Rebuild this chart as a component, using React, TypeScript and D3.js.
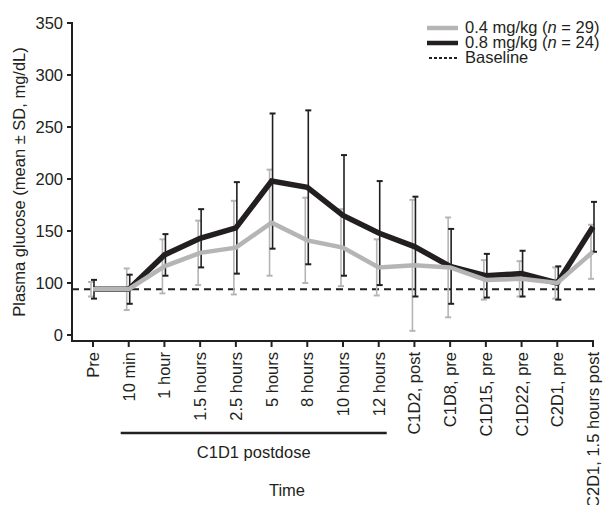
import React from 'react';
import * as d3 from 'd3';

// ==== data

const timepoints = [
    'Pre', '10 min', '1 hour', '1.5 hours', '2.5 hours', '5 hours', '8 hours', '10 hours', '12 hours',
    'C1D2, post', 'C1D8, pre', 'C1D15, pre', 'C1D22, pre', 'C2D1, pre', 'C2D1, 1.5 hours post'
];

const meanLow = [94, 94, 116, 129, 134, 158, 141, 134, 115, 117, 115, 103, 104, 100, 130];
const sdLow = [7, 20, 26, 31, 45, 51, 41, 37, 27, 63, 48, 19, 17, 15, 26];

const meanHigh = [94, 94, 127, 143, 153, 198, 192, 165, 148, 135, 116, 107, 109, 100, 154];
const sdHigh = [9, 14, 20, 28, 44, 65, 74, 58, 50, 48, 36, 21, 22, 16, 24];

const baselineValue = 94;

// axis is broken: the bottom tick shows 0 but sits where 50 would be
const yTickValues = [50, 100, 150, 200, 250, 300, 350];
const yTickLabels = ['0', '100', '150', '200', '250', '300', '350'];

const postdoseFrom = '10 min';
const postdoseTo = '12 hours';

// ====

const FONT = '"Liberation Sans", Arial, Helvetica, sans-serif';
const FS = 16.5;
const GRAY = '#b5b5b5';
const BLACK = '#231f20';

const App = () => {
    const x = d3.scalePoint<string>().domain(timepoints).range([93, 593]);
    const y = d3.scaleLinear().domain([50, 350]).range([335, 23]);

    const axisY = 341;
    const axisX = 72;

    const line = d3.line<number>()
        .x((d, i) => x(timepoints[i]) as number)
        .y((d) => y(d));

    const series = [
        { mean: meanLow, sd: sdLow, color: GRAY, shift: -2 },
        { mean: meanHigh, sd: sdHigh, color: BLACK, shift: 1 }
    ];

    const errorBars = (s) => s.mean.map((m, i) => {
        const cx = (x(timepoints[i]) as number) + s.shift;
        const top = y(m + s.sd[i]);
        const bot = y(m - s.sd[i]);
        return (
            <g key={i} stroke={s.color} strokeWidth={1.6}>
                <line x1={cx} x2={cx} y1={top} y2={bot} />
                <line x1={cx - 3} x2={cx + 3} y1={top} y2={top} strokeWidth={2} />
                <line x1={cx - 3} x2={cx + 3} y1={bot} y2={bot} strokeWidth={2} />
            </g>
        );
    });

    return (
        <svg width={603} height={505} style={{ position: 'absolute', left: 0, top: 0 }} fontFamily={FONT}>
            {/* y axis */}
            <line x1={axisX} x2={axisX} y1={y(350) - 1} y2={axisY + 1} stroke={BLACK} strokeWidth={2} />
            {yTickValues.map((v, i) => (
                <g key={v}>
                    <line x1={axisX - 5} x2={axisX} y1={y(v)} y2={y(v)} stroke={BLACK} strokeWidth={2} />
                    <text x={axisX - 9} y={y(v)} dy="0.36em" textAnchor="end" fontSize={FS} fill={BLACK}>
                        {yTickLabels[i]}
                    </text>
                </g>
            ))}
            <text transform={`translate(19,182) rotate(-90)`} textAnchor="middle" dy="0.35em" fontSize={FS} fill={BLACK}>
                Plasma glucose (mean ± SD, mg/dL)
            </text>

            {/* x axis */}
            <line x1={axisX - 1} x2={(x(timepoints[timepoints.length - 1]) as number) + 1} y1={axisY} y2={axisY} stroke={BLACK} strokeWidth={2} />
            {timepoints.map((t) => (
                <g key={t}>
                    <line x1={x(t)} x2={x(t)} y1={axisY} y2={axisY + 6} stroke={BLACK} strokeWidth={2} />
                    <text transform={`translate(${x(t)},352) rotate(-90)`} textAnchor="end" dy="0.36em" fontSize={FS} fill={BLACK}>
                        {t}
                    </text>
                </g>
            ))}

            {/* postdose bracket */}
            <line x1={(x(postdoseFrom) as number) - 8} x2={(x(postdoseTo) as number) + 8} y1={433} y2={433} stroke={BLACK} strokeWidth={2.5} />
            <text x={((x(postdoseFrom) as number) + (x(postdoseTo) as number)) / 2} y={458} textAnchor="middle" fontSize={FS} fill={BLACK}>
                C1D1 postdose
            </text>
            <text x={287} y={496} textAnchor="middle" fontSize={FS} fill={BLACK}>Time</text>

            {/* baseline */}
            <line x1={axisX} x2={597} y1={y(baselineValue)} y2={y(baselineValue)} stroke={BLACK} strokeWidth={2} strokeDasharray="7,5" />

            {/* error bars */}
            {series.map((s, k) => <g key={k}>{errorBars(s)}</g>)}

            {/* mean lines */}
            <path d={line(meanHigh) as string} fill="none" stroke={BLACK} strokeWidth={5.5} strokeLinejoin="miter" />
            <path d={line(meanLow) as string} fill="none" stroke={GRAY} strokeWidth={4.5} strokeLinejoin="miter" />

            {/* legend */}
            <g fontSize={FS} fill={BLACK}>
                <line x1={427} x2={458} y1={28} y2={28} stroke={GRAY} strokeWidth={4.5} />
                <text x={465} y={33}>0.4 mg/kg  (<tspan fontStyle="italic">n</tspan> = 29)</text>
                <line x1={427} x2={458} y1={43} y2={43} stroke={BLACK} strokeWidth={4.5} />
                <text x={465} y={48}>0.8 mg/kg  (<tspan fontStyle="italic">n</tspan> = 24)</text>
                <line x1={429} x2={457} y1={58} y2={58} stroke={BLACK} strokeWidth={2} strokeDasharray="3,2" />
                <text x={465} y={63}>Baseline</text>
            </g>
        </svg>
    );
};

export default App;
